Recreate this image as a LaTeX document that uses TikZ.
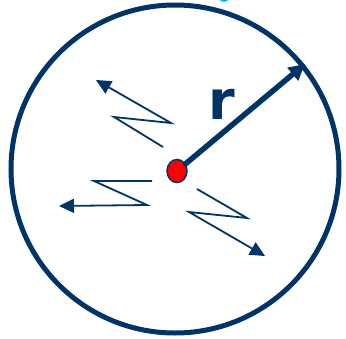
\documentclass[tikz,border=0pt]{standalone}
\usepackage{fontspec}
\setsansfont{DejaVu Sans}
\usepackage{tikz}
\usetikzlibrary{arrows.meta,shapes.geometric}
\definecolor{navy}{RGB}{0,52,102}
\definecolor{skyblue}{RGB}{0,176,240}

\begin{document}
\begin{tikzpicture}[x=1pt,y=-1pt,
  zig/.style={draw=navy,line width=1.8pt,-{Triangle[length=15pt,width=14pt]}},
  radius arrow/.style={draw=navy,line width=5.5pt,line cap=round,-{Triangle[length=16pt,width=16pt]}}]
\useasboundingbox (0,0) rectangle (346,338);
\clip (0,0) rectangle (346,338);
\fill[skyblue] (224,-3) circle (5);
% ring
\coordinate (ring) at (175,169);
\draw[navy,line width=5pt] (ring) circle (164);
% radius
\coordinate (rim) at (305,64);
\node[ellipse,draw=navy,line width=1.5pt,fill=red,minimum width=20pt,minimum height=23pt,inner sep=0pt] (dot) at (177,171) {};
\draw[radius arrow] (dot) -- (rim);
\node[text=navy,font=\sffamily\bfseries\fontsize{54}{60}\selectfont] (rlabel) at (222,104) {r};
% zigzag arrows
\draw[zig] (163,147) -- (114,117) -- (171,123) -- (96,80);
\draw[zig] (152,181) -- (94,181) -- (147,205) -- (59,206);
\draw[zig] (197,189) -- (247,218) -- (189,212) -- (265,256);
\end{tikzpicture}
\end{document}
